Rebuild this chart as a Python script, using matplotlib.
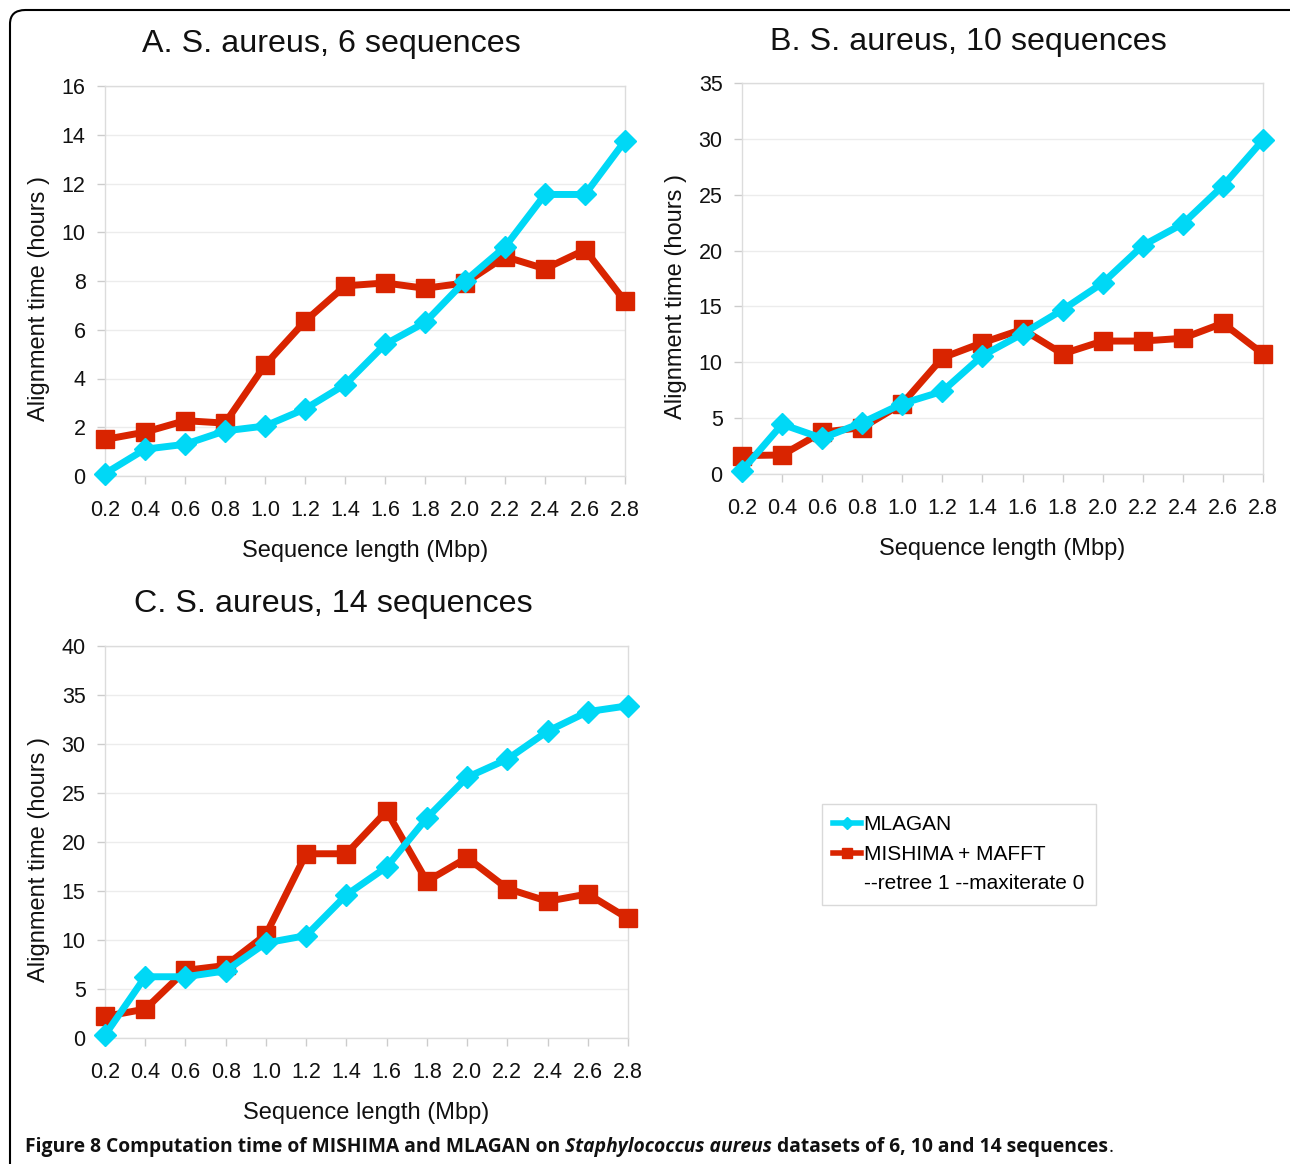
import matplotlib.pyplot as plt
from matplotlib.lines import Line2D
from matplotlib.patches import FancyBboxPatch

# Sequence lengths (Mbp) used as categories on every panel
lengths = ["0.2", "0.4", "0.6", "0.8", "1.0", "1.2", "1.4",
           "1.6", "1.8", "2.0", "2.2", "2.4", "2.6", "2.8"]

# Alignment times in hours
mlagan_6 = [0.1, 1.1, 1.3, 1.85, 2.05, 2.75, 3.75, 5.4, 6.3, 8.0, 9.4, 11.55, 11.55, 13.75]
mishima_6 = [1.5, 1.8, 2.27, 2.17, 4.55, 6.35, 7.8, 7.92, 7.7, 7.92, 9.0, 8.5, 9.28, 7.17]

mlagan_10 = [0.3, 4.45, 3.2, 4.6, 6.3, 7.4, 10.6, 12.55, 14.7, 17.1, 20.45, 22.4, 25.8, 29.9]
mishima_10 = [1.65, 1.7, 3.75, 4.15, 6.3, 10.4, 11.75, 12.95, 10.75, 11.9, 11.9, 12.15, 13.5, 10.75]

mlagan_14 = [0.3, 6.25, 6.25, 6.85, 9.7, 10.45, 14.6, 17.45, 22.45, 26.6, 28.45, 31.3, 33.3, 33.9]
mishima_14 = [2.2, 2.95, 6.9, 7.4, 10.55, 18.8, 18.8, 23.15, 16.0, 18.4, 15.25, 13.95, 14.7, 12.2]

CYAN = "#00d8f6"
RED = "#d92400"
W, H = 1290, 1164

plt.rcParams['font.family'] = ['Liberation Sans', 'DejaVu Sans']

fig = plt.figure(figsize=(W / 100, H / 100), dpi=100)


def px_axes(left, top, right, bottom):
    return fig.add_axes([left / W, 1 - bottom / H, (right - left) / W, (bottom - top) / H])


def panel(ax, title, mlagan, mishima, ymax, ystep, title_xy):
    x = list(range(len(lengths)))
    ax.plot(x, mishima, color=RED, lw=5, marker="s", ms=13, mec=RED,
            solid_joinstyle="miter", zorder=3, clip_on=False)
    ax.plot(x, mlagan, color=CYAN, lw=5, marker="D", ms=11, mec=CYAN,
            solid_joinstyle="miter", zorder=4, clip_on=False)
    ax.set_xlim(0, len(lengths) - 1)
    ax.set_ylim(0, ymax)
    ax.set_yticks(range(0, ymax + 1, ystep))
    ax.set_xticks(x)
    ax.set_xticklabels(lengths)
    ax.grid(axis="y", color="#ececec", lw=1)
    ax.set_axisbelow(True)
    for s in ax.spines.values():
        s.set_color("#dcdcdc")
        s.set_linewidth(1)
    ax.tick_params(axis="both", colors="#cccccc", labelcolor="#111111",
                   labelsize=15.5, length=6, width=1)
    ax.tick_params(axis="x", pad=11)
    ax.tick_params(axis="y", pad=8)
    ax.set_xlabel("Sequence length (Mbp)", fontsize=17, labelpad=14, color="#111111")
    ax.set_ylabel("Alignment time (hours )", fontsize=17, labelpad=8, color="#111111")
    ax.yaxis.label.set_y(0.455)
    fig.text(title_xy[0] / W, 1 - title_xy[1] / H, title, fontsize=23.2,
             ha="center", va="center", color="#111111")


axA = px_axes(105, 86, 625, 476)
panel(axA, "A. S. aureus, 6 sequences", mlagan_6, mishima_6, 16, 2, (331, 44))

axB = px_axes(742, 83, 1263, 474)
panel(axB, "B. S. aureus, 10 sequences", mlagan_10, mishima_10, 35, 5, (968, 42))

axC = px_axes(105, 646, 628, 1038)
panel(axC, "C. S. aureus, 14 sequences", mlagan_14, mishima_14, 40, 5, (333, 604))

# legend shared by the three panels
handles = [
    Line2D([], [], color=CYAN, lw=4, marker="D", ms=6, mec=CYAN),
    Line2D([], [], color=RED, lw=4, marker="s", ms=7, mec=RED),
    Line2D([], [], color="none"),
]
labels = ["MLAGAN", "MISHIMA + MAFFT", "--retree 1 --maxiterate 0"]
leg = fig.legend(handles, labels, loc="upper left",
                 bbox_to_anchor=(822 / W, 1 - 804 / H), fontsize=15,
                 frameon=True, fancybox=False, edgecolor="#d0d0d0",
                 handlelength=1.3, handletextpad=0.15, labelspacing=0.5,
                 borderpad=0.55, borderaxespad=0)
leg.get_frame().set_linewidth(1)

# rounded border around the figure
border = FancyBboxPatch((10 / W, -0.1), (W + 20) / W, (H - 10) / H + 0.1,
                        boxstyle="round,pad=0,rounding_size=0.012",
                        transform=fig.transFigure, fill=False,
                        edgecolor="black", lw=1.5, clip_on=False)
fig.patches.append(border)

# caption with bold and bold-italic runs
pieces = [
    ("Figure 8 Computation time of MISHIMA and MLAGAN on ", "bold", "normal"),
    ("Staphylococcus aureus", "bold", "italic"),
    (" datasets of 6, 10 and 14 sequences", "bold", "normal"),
    (".", "normal", "normal"),
]
renderer = fig.canvas.get_renderer()
xpos = 25
for text, weight, style in pieces:
    t = fig.text(xpos / W, 1 - 1147 / H, text, fontsize=13.9, family="Open Sans",
                 fontweight=weight, fontstyle=style, ha="left", va="center",
                 color="#111111")
    bb = t.get_window_extent(renderer=renderer)
    xpos += bb.width

fig.savefig("out.png", dpi=100)
